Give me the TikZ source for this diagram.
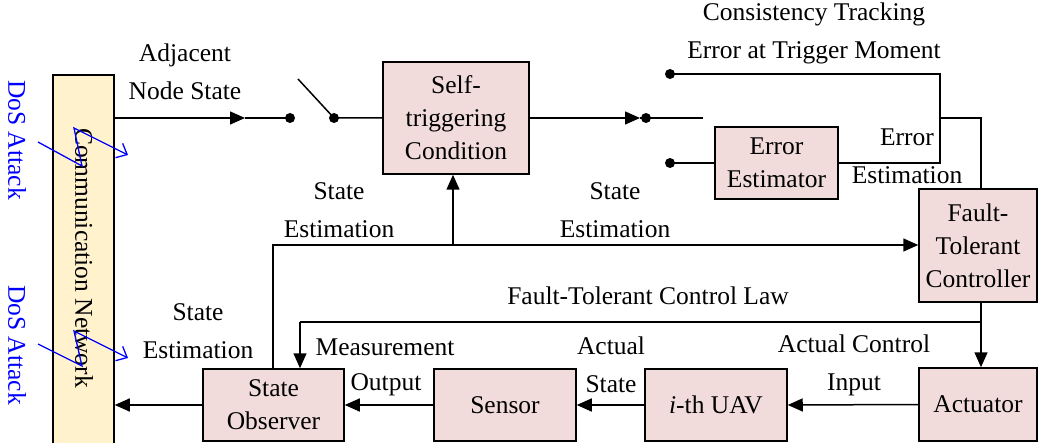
\documentclass[tikz,border=0pt]{standalone}
\usepackage{fontspec}
\setmainfont{Liberation Serif}
\usetikzlibrary{arrows.meta}
\definecolor{boxpink}{RGB}{242,220,219}
\definecolor{netyellow}{RGB}{255,242,204}
\begin{document}
\begin{tikzpicture}[x=1pt,y=-1pt,
  font=\fontsize{25.5}{38}\selectfont,
  wire/.style={line width=1.5pt},
  arr/.style={line width=1.5pt,-{Triangle[length=15pt,width=13pt]}},
  blk/.style={draw,line width=1.5pt,fill=boxpink,inner sep=0pt,align=center,
    font=\fontsize{25.5}{33}\selectfont},
  netbox/.style={draw,line width=1.5pt,fill=netyellow,inner sep=0pt},
  lbl/.style={align=center,inner sep=0pt},
  dot/.style={circle,fill=black,inner sep=0pt,minimum size=10pt},
  dosline/.style={blue,line width=1.3pt,-{Straight Barb[length=9pt,width=16pt]}}]
\useasboundingbox (0,0) rectangle (1038,443);

% blocks
\node[netbox,minimum width=61pt,minimum height=374pt] (comm) at (83.5,262) {};
\node[rotate=-90,inner sep=0pt] (commtxt) at (84,258) {Communication Network};
\node[blk,minimum width=146pt,minimum height=112pt] (st) at (456,118) {Self-\\triggering\\Condition};
\node[blk,minimum width=123pt,minimum height=72pt] (ee) at (776.5,163) {Error\\Estimator};
\node[blk,minimum width=118pt,minimum height=113pt] (ftc) at (978,245.5) {Fault-\\Tolerant\\Controller};
\node[blk,minimum width=118pt,minimum height=73pt] (act) at (978,404.5) {Actuator};
\node[blk,minimum width=142pt,minimum height=72pt] (uav) at (716,405) {\textit{i}-th UAV};
\node[blk,minimum width=142pt,minimum height=72pt] (sen) at (505,405) {Sensor};
\node[blk,minimum width=141pt,minimum height=72pt] (obs) at (273.5,405) {State\\Observer};

% DoS attacks
\node[blue,rotate=-90,inner sep=0pt] (dos1) at (17,140) {DoS Attack};
\node[blue,rotate=-90,inner sep=0pt] (dos2) at (17,345) {DoS Attack};
\coordinate (z1a) at (38,142); \coordinate (z1b) at (82,166);
\coordinate (z1c) at (74,128); \coordinate (z1d) at (128,155);
\draw[dosline] (z1a) -- (z1b) -- (z1c) -- (z1d);
\coordinate (z2a) at (38,344); \coordinate (z2b) at (82,366);
\coordinate (z2c) at (74,331); \coordinate (z2d) at (128,358);
\draw[dosline] (z2a) -- (z2b) -- (z2c) -- (z2d);

% top path with switches
\node[dot] (d1) at (290,118) {};
\node[dot] (d2) at (334,118) {};
\node[dot] (d3) at (646,118) {};
\node[dot] (d4) at (670,74) {};
\node[dot] (d5) at (670,163) {};
\coordinate (t1) at (245,118);
\coordinate (t2) at (640,118);
\coordinate (sw1) at (298,79);
\coordinate (sw2) at (703,118);
\draw[arr] (comm.east |- t1) -- (t1);
\draw[wire] (t1) -- (d1.center);
\draw[wire] (sw1) -- (d2.center) -- (st.west);
\draw[arr] (st.east) -- (t2);
\draw[wire] (t2) -- (d3.center) -- (sw2);
\draw[wire] (d5.center) -- (ee.west);
\coordinate (ej) at (940,118);
\coordinate (vx) at (981,118);
\draw[wire] (d4.center) -- (ej |- d4) -- (ej |- ee.east) -- (ee.east);
\draw[wire] (ej) -- (vx) -- (vx |- ftc.north);

% state estimation path
\coordinate (se) at (273,245);
\coordinate (sej) at (453,245);
\draw[wire] (obs.north -| se) -- (se) -- (sej);
\draw[arr] (sej) -- (sej |- st.south);
\draw[arr] (sej) -- (ftc.west |- sej);

% controller to actuator, control law
\coordinate (cl) at (981,322);
\coordinate (clx) at (300,322);
\draw[arr] (vx |- ftc.south) -- (vx |- act.north);
\draw[wire] (cl) -- (clx);
\draw[arr] (clx) -- (clx |- obs.north);

% bottom chain
\draw[arr] (act.west) -- (uav.east);
\draw[arr] (uav.west) -- (sen.east);
\draw[arr] (sen.west) -- (obs.east);
\draw[arr] (obs.west) -- (obs.west -| comm.east);

% labels
\node[lbl] (l1) at (185,72) {Adjacent\\Node State};
\node[lbl] (l2) at (814,33) {Consistency Tracking\\Error at Trigger Moment};
\node[lbl] (l3) at (907,156) {Error\\Estimation};
\node[lbl] (l4) at (339,210) {State\\Estimation};
\node[lbl] (l5) at (615,210) {State\\Estimation};
\node[lbl] (l6) at (198,331) {State\\Estimation};
\node[lbl] (l7) at (648,296) {Fault-Tolerant Control Law};
\node[lbl] (l8) at (385,347) {Measurement};
\node[lbl] (l9) at (386,385) {Output};
\node[lbl] (l10) at (611,365) {Actual\\State};
\node[lbl] (l11) at (854,365) {Actual Control\\Input};
\end{tikzpicture}
\end{document}
